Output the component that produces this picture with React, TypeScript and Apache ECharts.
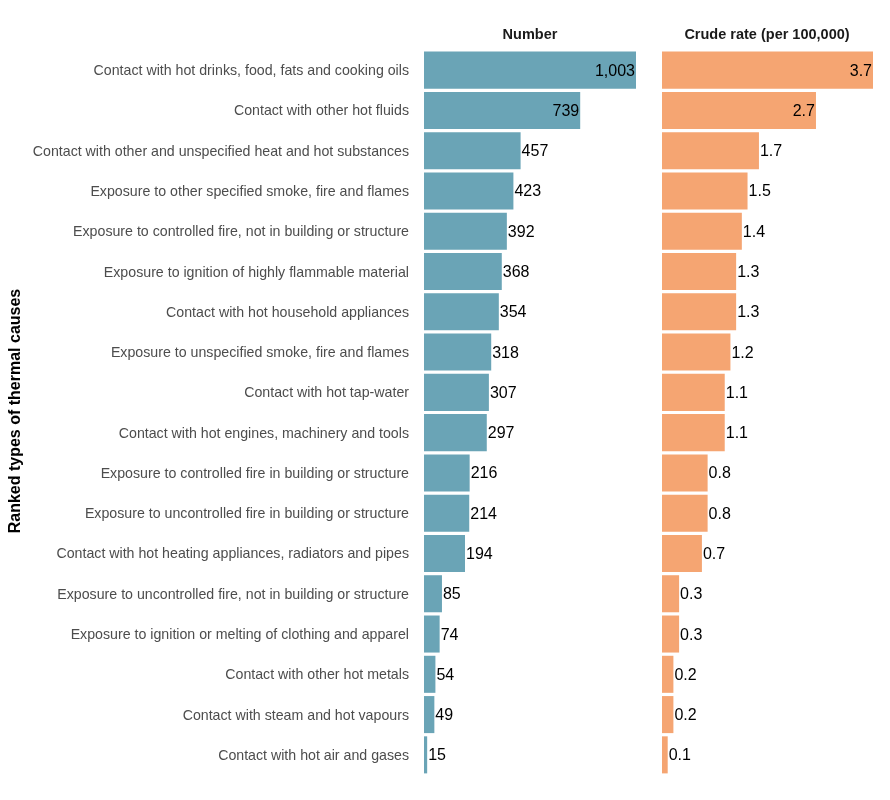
import React, { useEffect, useRef } from "react";
import * as echarts from "echarts";

const categories = [
  "Contact with hot drinks, food, fats and cooking oils",
  "Contact with other hot fluids",
  "Contact with other and unspecified heat and hot substances",
  "Exposure to other specified smoke, fire and flames",
  "Exposure to controlled fire, not in building or structure",
  "Exposure to ignition of highly flammable material",
  "Contact with hot household appliances",
  "Exposure to unspecified smoke, fire and flames",
  "Contact with hot tap-water",
  "Contact with hot engines, machinery and tools",
  "Exposure to controlled fire in building or structure",
  "Exposure to uncontrolled fire in building or structure",
  "Contact with hot heating appliances, radiators and pipes",
  "Exposure to uncontrolled fire, not in building or structure",
  "Exposure to ignition or melting of clothing and apparel",
  "Contact with other hot metals",
  "Contact with steam and hot vapours",
  "Contact with hot air and gases",
];

const numbers = [1003, 739, 457, 423, 392, 368, 354, 318, 307, 297, 216, 214, 194, 85, 74, 54, 49, 15];
const rates = [3.7, 2.7, 1.7, 1.5, 1.4, 1.3, 1.3, 1.2, 1.1, 1.1, 0.8, 0.8, 0.7, 0.3, 0.3, 0.2, 0.2, 0.1];
const panelTitles = ["Number", "Crude rate (per 100,000)"];
const axisTitle = "Ranked types of thermal causes";

const FONT = "'Liberation Sans', Arial, sans-serif";
const TEAL = "#6aa4b6";
const ORANGE = "#f5a572";

export default function App() {
  const ref = useRef<HTMLDivElement>(null);
  useEffect(() => {
    if (!ref.current) return;
    const chart = echarts.init(ref.current, undefined, { renderer: "svg" });
    const top = 50;
    const height = 725;
    const numMax = Math.max(...numbers);
    const rateMax = Math.max(...rates);
    const mkData = (vals: number[], max: number, fmt: (v: number) => string) =>
      vals.map((v) => {
        const inside = v / max > 0.7;
        return {
          value: v,
          label: {
            show: true,
            position: inside ? "insideRight" : "right",
            distance: 1,
            formatter: () => fmt(v),
            color: "#000",
            fontSize: 16,
            fontFamily: FONT,
          },
        };
      });
    chart.setOption({
      animation: false,
      textStyle: { fontFamily: FONT },
      grid: [
        { left: 424, width: 212, top, height },
        { left: 662, width: 211, top, height },
      ],
      xAxis: [
        { gridIndex: 0, type: "value", min: 0, max: numMax, show: false },
        { gridIndex: 1, type: "value", min: 0, max: rateMax, show: false },
      ],
      yAxis: [
        {
          gridIndex: 0,
          type: "category",
          data: categories,
          inverse: true,
          axisLine: { show: false },
          axisTick: { show: false },
          splitLine: { show: false },
          axisLabel: { color: "#4d4d4d", fontSize: 14.2, margin: 15, fontFamily: FONT },
        },
        {
          gridIndex: 1,
          type: "category",
          data: categories,
          inverse: true,
          axisLine: { show: false },
          axisTick: { show: false },
          axisLabel: { show: false },
        },
      ],
      series: [
        {
          type: "bar",
          xAxisIndex: 0,
          yAxisIndex: 0,
          barCategoryGap: "8%",
          itemStyle: { color: TEAL },
          data: mkData(numbers, numMax, (v) => v.toLocaleString("en-US")),
        },
        {
          type: "bar",
          xAxisIndex: 1,
          yAxisIndex: 1,
          barCategoryGap: "8%",
          itemStyle: { color: ORANGE },
          data: mkData(rates, rateMax, (v) => v.toFixed(1)),
        },
      ],
      graphic: [
        {
          type: "text",
          x: 530,
          y: 34,
          style: {
            text: panelTitles[0],
            font: `bold 14.5px ${FONT}`,
            fill: "#1a1a1a",
            textAlign: "center",
            textVerticalAlign: "middle",
          },
        },
        {
          type: "text",
          x: 767,
          y: 34,
          style: {
            text: panelTitles[1],
            font: `bold 14.5px ${FONT}`,
            fill: "#1a1a1a",
            textAlign: "center",
            textVerticalAlign: "middle",
          },
        },
        {
          type: "text",
          x: 14.5,
          y: 411,
          rotation: Math.PI / 2,
          style: {
            text: axisTitle,
            font: `bold 16px ${FONT}`,
            fill: "#000",
            textAlign: "center",
            textVerticalAlign: "middle",
          },
        },
      ],
    });
    return () => chart.dispose();
  }, []);
  return <div ref={ref} style={{ position: "fixed", left: 0, top: 0, width: 890, height: 800 }} />;
}
